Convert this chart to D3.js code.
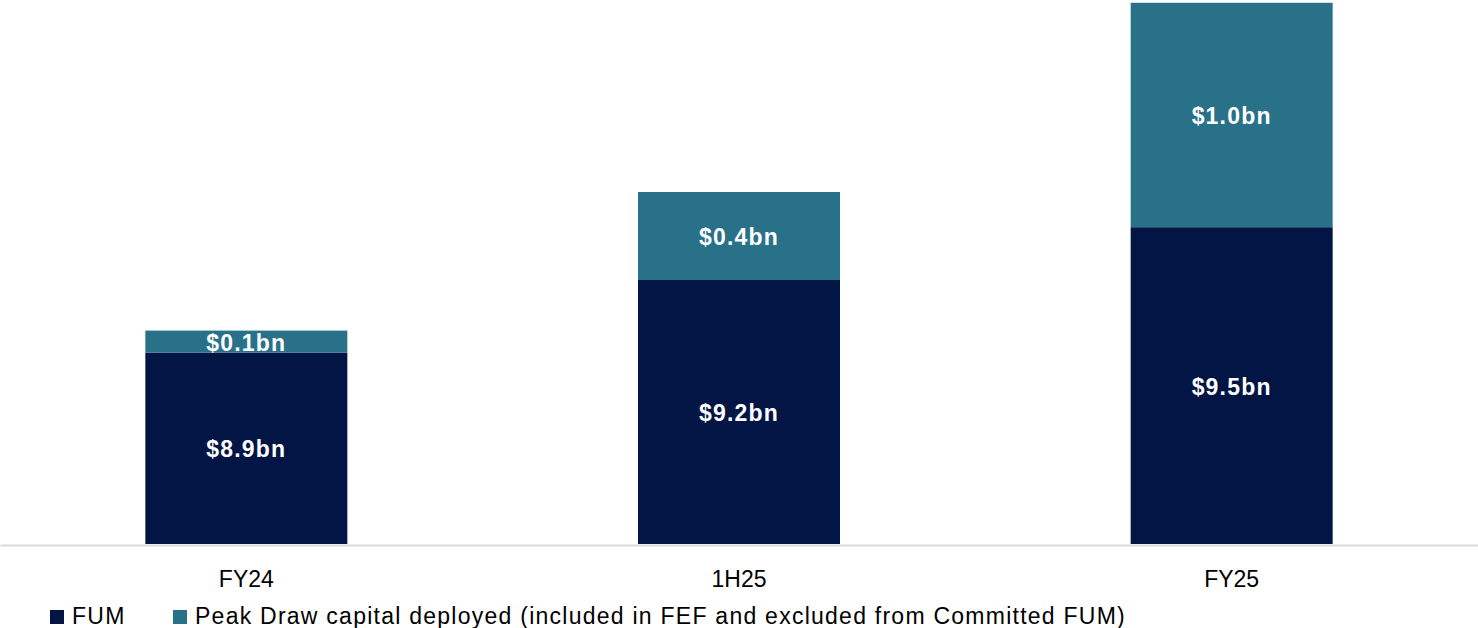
<!DOCTYPE html>
<html>
<head>
<meta charset="utf-8">
<script src="https://cdn.jsdelivr.net/npm/d3@7"></script>
<style>
  html, body { margin: 0; padding: 0; background: #ffffff; }
  svg { display: block; }
</style>
</head>
<body>
<svg id="chart" width="1478" height="628"></svg>
<script>
// ---- data ----
const categories = ["FY24", "1H25", "FY25"];
const fumValues = [8.90, 9.23, 9.47];
const peakDrawValues = [0.10, 0.40, 1.02];
const seriesNames = ["FUM", "Peak Draw capital deployed (included in FEF and excluded from Committed FUM)"];
const axisMin = 8.03;
const axisMax = 10.53;

// ---- styles ----
const colors = ["#021544", "#287189"];
const W = 1478, H = 628;
const baseY = 544;

const svg = d3.select("#chart");

const x = d3.scaleBand()
  .domain(categories)
  .range([0, W])
  .paddingInner(0.59)
  .paddingOuter(0.295);

const y = d3.scaleLinear()
  .domain([axisMin, axisMax])
  .range([baseY, baseY - (axisMax - axisMin) * 220]);

const rows = categories.map((c, i) => ({ cat: c, fum: fumValues[i], peak: peakDrawValues[i] }));
const stacked = d3.stack().keys(["fum", "peak"])(rows);
const fmt = v => "$" + d3.format(".1f")(v) + "bn";

const g = svg.append("g");
stacked.forEach((layer, li) => {
  const lo = d => (li === 0 ? y(axisMin) : y(d[0]));
  const lg = g.append("g");
  lg.selectAll("rect")
    .data(layer)
    .join("rect")
    .attr("x", d => x(d.data.cat))
    .attr("width", x.bandwidth())
    .attr("y", d => y(d[1]))
    .attr("height", d => lo(d) - y(d[1]))
    .attr("fill", colors[li]);
  lg.selectAll("text")
    .data(layer)
    .join("text")
    .attr("x", d => x(d.data.cat) + x.bandwidth() / 2)
    .attr("y", d => (lo(d) + y(d[1])) / 2 + 1)
    .attr("text-anchor", "middle")
    .attr("dominant-baseline", "central")
    .attr("fill", "#ffffff")
    .style("font-family", "'Liberation Sans', Arial, sans-serif")
    .style("font-weight", "bold")
    .style("font-size", "23px")
    .style("letter-spacing", "1.2px")
    .text(d => fmt(d[1] - d[0]));
});

// ---- x axis ----
const axis = svg.append("g")
  .attr("transform", `translate(0,${baseY + 1})`)
  .call(d3.axisBottom(x).tickSize(0).tickPadding(0));
axis.select(".domain").attr("stroke", "#d9d9d9").attr("stroke-width", 2);
axis.selectAll(".tick text")
  .attr("y", 42)
  .attr("dy", 0)
  .attr("fill", "#000000")
  .style("font-family", "'Liberation Sans', Arial, sans-serif")
  .style("font-size", "23px");

// ---- legend ----
const legendX = [50, 173];
const leg = svg.append("g");
seriesNames.forEach((name, i) => {
  leg.append("rect")
    .attr("x", legendX[i]).attr("y", 610)
    .attr("width", 14).attr("height", 14)
    .attr("fill", colors[i]);
  leg.append("text")
    .attr("x", legendX[i] + 22).attr("y", 624)
    .attr("fill", "#000000")
    .style("font-family", "'Liberation Sans', Arial, sans-serif")
    .style("font-size", "23px")
    .style("letter-spacing", "1.25px")
    .text(name);
});
</script>
</body>
</html>
